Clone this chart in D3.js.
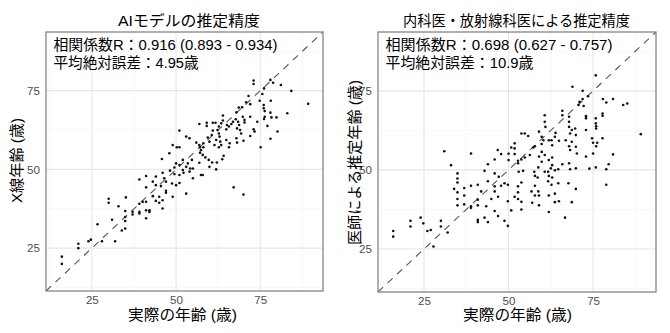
<!DOCTYPE html>
<html><head><meta charset="utf-8">
<script src="https://cdn.jsdelivr.net/npm/d3@7"></script>
<style>body{margin:0;background:#fff}svg{display:block}text{font-family:"Liberation Sans","Noto Sans CJK JP",sans-serif}</style>
</head><body><svg id="c" width="670" height="333"></svg>
<script>
const domain = [11.4, 93.6];
const ticks = [25, 50, 75];
const minorTicks = [12.5, 37.5, 62.5, 87.5];
const titles = ["AIモデルの推定精度", "内科医・放射線科医による推定精度"];
const yTitles = ["X線年齢 (歳)", "医師による推定年齢 (歳)"];
const xTitle = "実際の年齢 (歳)";
const statsR = ["相関係数R：0.916 (0.893 - 0.934)", "相関係数R：0.698 (0.627 - 0.757)"];
const statsMAE = ["平均絶対誤差：4.95歳", "平均絶対誤差：10.9歳"];

// AI model: [actual age, estimated age]
const aiPoints = [
[73.0,78.2],[73.0,77.1],[78.0,78.4],[78.8,77.5],[81.1,76.8],[84.2,74.9],[89.2,70.8],[76.1,75.7],[75.6,73.9],[71.5,73.3],
[70.8,71.3],[72.0,70.7],[69.6,69.7],[68.6,69.6],[67.9,68.1],[74.8,71.8],[76.0,70.4],[76.0,69.4],[76.3,68.5],[76.3,66.7],
[76.1,66.0],[78.1,71.8],[78.0,68.0],[79.8,66.5],[78.3,66.5],[83.0,67.8],[77.1,63.8],[80.1,62.0],[78.0,59.7],[75.1,57.0],
[74.1,65.1],[72.0,66.7],[69.8,66.7],[70.3,65.7],[70.3,64.9],[73.0,62.7],[73.3,62.0],[72.0,60.6],[70.0,59.1],[67.7,65.9],
[68.4,65.1],[68.7,64.1],[68.1,63.0],[69.0,62.5],[69.3,61.4],[67.9,59.9],[68.1,58.5],[66.9,65.1],[66.4,64.4],[65.7,63.6],
[64.9,62.7],[65.1,64.1],[63.9,67.1],[63.9,65.5],[63.4,64.6],[62.7,63.6],[62.3,62.5],[62.7,61.4],[62.9,60.4],[61.9,59.3],
[63.1,58.8],[63.4,57.7],[62.7,57.0],[61.7,64.8],[60.9,64.8],[59.1,64.8],[59.1,63.8],[56.9,64.4],[60.9,62.3],[60.6,60.9],
[59.4,60.1],[59.9,58.8],[58.1,58.3],[61.4,57.7],[64.9,59.3],[65.9,58.3],[65.7,57.0],[64.1,54.3],[63.7,53.2],[51.0,62.3],
[53.0,60.4],[54.0,59.9],[49.0,57.7],[50.2,57.0],[51.0,57.0],[48.0,55.1],[56.0,58.5],[56.9,57.7],[57.1,57.0],[58.1,57.0],
[57.4,56.1],[57.1,55.3],[57.9,54.6],[58.7,53.8],[59.7,53.0],[60.7,52.2],[62.1,52.2],[59.9,50.8],[61.9,50.0],[45.8,53.3],
[50.0,51.9],[49.5,50.6],[51.0,51.4],[52.0,53.0],[52.0,49.8],[53.0,50.8],[53.5,51.9],[54.2,50.3],[55.0,50.3],[54.7,53.0],
[56.9,52.1],[57.4,48.2],[57.9,48.2],[54.0,49.3],[52.2,48.9],[51.0,48.2],[49.5,48.5],[48.2,49.6],[46.0,48.9],[44.0,47.7],
[41.1,47.9],[39.1,46.8],[46.5,47.2],[55.0,47.2],[47.0,46.1],[45.5,44.7],[43.1,46.1],[41.1,44.3],[44.0,45.0],[47.0,43.2],
[47.0,42.6],[43.1,41.5],[45.0,41.3],[44.0,40.0],[45.0,39.4],[46.0,40.2],[41.1,39.7],[39.1,39.1],[40.1,39.7],[41.1,37.0],
[42.1,37.0],[42.1,36.5],[46.0,37.6],[41.1,34.5],[37.1,36.5],[37.1,35.7],[39.1,36.5],[39.1,36.0],[35.1,41.1],[34.9,36.8],
[34.9,34.9],[34.9,33.6],[32.9,38.3],[31.0,34.0],[30.0,40.7],[30.0,39.4],[26.7,32.6],[34.9,31.2],[33.9,30.6],[31.9,27.2],
[28.0,27.2],[24.7,27.7],[24.0,27.2],[21.0,26.4],[21.0,25.0],[16.1,22.3],[16.1,20.0],[49.0,41.3],[50.0,45.0],[51.0,45.7],
[53.0,42.3],[67.1,44.3],[70.0,42.0],[48.8,45.5]
];

// Physicians: [actual age, estimated age]
const drPoints = [
[75.8,79.9],[68.9,76.3],[71.9,75.0],[73.5,73.3],[71.9,72.4],[71.0,71.5],[70.7,70.5],[72.2,70.2],[77.9,72.4],[78.9,71.3],
[80.9,72.4],[83.9,70.5],[85.1,71.0],[89.1,61.3],[72.9,67.0],[72.9,66.3],[75.8,66.3],[75.8,64.7],[77.8,67.8],[77.8,67.1],
[75.9,63.8],[75.9,63.1],[72.9,62.6],[77.8,60.0],[74.7,60.0],[75.0,58.6],[76.2,58.6],[75.9,57.5],[75.0,55.2],[80.9,54.9],
[72.9,54.2],[79.6,51.8],[78.9,50.2],[75.8,50.8],[73.9,50.4],[65.9,68.7],[65.9,67.3],[67.9,66.8],[67.9,65.2],[67.9,63.6],
[68.7,62.6],[68.2,61.5],[69.7,63.1],[69.9,61.0],[66.9,59.4],[68.7,58.9],[67.9,57.5],[68.2,56.3],[69.9,57.3],[70.2,55.2],
[67.9,52.1],[65.9,51.8],[69.9,50.5],[68.2,50.2],[63.9,61.7],[63.7,60.5],[64.9,59.2],[62.7,59.4],[62.9,57.8],[61.9,59.4],
[60.7,67.3],[60.7,65.2],[60.9,63.6],[59.0,62.1],[59.8,60.5],[60.3,59.4],[59.8,58.2],[59.8,55.7],[60.7,54.7],[61.9,53.1],
[62.9,53.9],[62.9,51.5],[62.5,50.5],[61.7,49.4],[63.7,49.9],[64.7,50.2],[59.0,54.2],[59.8,52.6],[58.8,50.8],[57.6,49.4],
[57.8,48.1],[58.6,47.6],[60.7,49.4],[61.9,48.1],[62.9,47.6],[53.8,61.5],[54.8,61.5],[55.8,60.7],[51.8,58.4],[50.8,57.1],
[51.8,56.8],[50.0,55.1],[51.8,55.0],[52.8,52.9],[53.8,53.3],[54.8,53.9],[56.3,54.7],[57.3,57.1],[57.8,57.5],[52.8,52.1],
[53.0,49.4],[54.3,49.7],[50.0,53.1],[46.8,56.3],[47.8,55.0],[45.9,53.3],[43.9,51.8],[42.9,49.7],[45.9,48.9],[47.1,47.8],
[31.0,55.9],[38.9,55.2],[33.0,51.5],[34.9,48.9],[34.9,47.3],[34.9,46.0],[33.9,44.0],[34.9,42.9],[36.9,44.3],[36.9,41.9],
[34.9,40.8],[34.9,38.8],[36.9,39.1],[38.9,45.0],[40.9,45.3],[41.9,43.2],[40.9,40.6],[38.9,38.5],[38.9,38.0],[40.9,38.8],
[43.9,46.4],[45.9,44.8],[45.9,43.2],[46.9,41.5],[44.9,40.8],[43.4,38.5],[45.9,37.0],[46.9,35.4],[42.9,34.9],[43.9,33.5],
[40.9,34.2],[40.9,33.5],[48.8,33.9],[49.8,32.3],[47.8,45.0],[48.8,45.8],[49.8,45.3],[49.8,40.1],[50.8,37.2],[51.8,41.5],
[52.8,42.9],[52.8,40.8],[53.8,39.9],[53.8,37.5],[52.8,44.8],[53.8,46.0],[56.8,43.2],[57.0,39.6],[57.8,45.0],[57.8,41.9],
[58.8,43.2],[59.0,41.9],[59.0,38.8],[61.9,41.9],[63.7,42.5],[63.7,39.8],[64.9,40.1],[61.9,36.7],[66.7,34.9],[68.7,39.8],
[69.9,44.0],[78.9,45.3],[27.8,25.8],[26.0,30.7],[24.0,34.9],[24.8,33.1],[21.0,33.9],[21.0,32.1],[15.9,30.7],[15.9,28.9],
[27.0,31.0],[30.0,33.9],[30.0,32.1],[32.0,30.2],[64.7,45.8],[61.7,46.4],[62.7,45.3],[67.7,45.8]
];

const datasets = [aiPoints, drPoints];
const panels = [
  {x0: 46, x1: 323, y0: 32, y1: 291, ytx: 16.5, tcx: 189, tw: 142, xtcx: 182.5, ytw: 85, ytcy: 160.5, sw: [224, 145]},
  {x0: 378, x1: 656, y0: 32, y1: 292, ytx: 354.5, tcx: 516.5, tw: 227, xtcx: 517.5, ytw: 165, ytcy: 162.5, sw: [227, 148]}
];
const FONT = '"Liberation Sans","Noto Sans CJK JP",sans-serif';

const svg = d3.select("#c");

panels.forEach((p, i) => {
  const x = d3.scaleLinear().domain(domain).range([p.x0, p.x1]);
  const y = d3.scaleLinear().domain(domain).range([p.y1, p.y0]);
  const g = svg.append("g");

  g.append("rect").attr("x", p.x0).attr("y", p.y0).attr("width", p.x1 - p.x0).attr("height", p.y1 - p.y0).attr("fill", "#fff");

  // minor grid
  g.selectAll(".mx").data(minorTicks).join("line")
    .attr("x1", d => x(d)).attr("x2", d => x(d)).attr("y1", p.y0).attr("y2", p.y1)
    .attr("stroke", "#f1f1f1").attr("stroke-width", 0.6);
  g.selectAll(".my").data(minorTicks).join("line")
    .attr("y1", d => y(d)).attr("y2", d => y(d)).attr("x1", p.x0).attr("x2", p.x1)
    .attr("stroke", "#f1f1f1").attr("stroke-width", 0.6);
  // major grid
  g.selectAll(".gx").data(ticks).join("line")
    .attr("x1", d => x(d)).attr("x2", d => x(d)).attr("y1", p.y0).attr("y2", p.y1)
    .attr("stroke", "#e6e6e6").attr("stroke-width", 1.1);
  g.selectAll(".gy").data(ticks).join("line")
    .attr("y1", d => y(d)).attr("y2", d => y(d)).attr("x1", p.x0).attr("x2", p.x1)
    .attr("stroke", "#e6e6e6").attr("stroke-width", 1.1);

  // axes
  const xa = g.append("g").attr("transform", `translate(0,${p.y1})`)
    .call(d3.axisBottom(x).tickValues(ticks).tickSize(0).tickPadding(4.5));
  const ya = g.append("g").attr("transform", `translate(${p.x0},0)`)
    .call(d3.axisLeft(y).tickValues(ticks).tickSize(0).tickPadding(6));
  [xa, ya].forEach(a => {
    a.select(".domain").remove();
    a.selectAll(".tick line").remove();
    a.selectAll("text").attr("fill", "#4d4d4d").style("font-size", "11.6px").style("font-family", FONT);
  });

  // diagonal
  g.append("line")
    .attr("x1", x(domain[0])).attr("y1", y(domain[0]))
    .attr("x2", x(domain[1])).attr("y2", y(domain[1]))
    .attr("stroke", "#555").attr("stroke-width", 1.1).attr("stroke-dasharray", "7,6");

  // points
  g.selectAll("circle").data(datasets[i]).join("circle")
    .attr("cx", d => x(d[0])).attr("cy", d => y(d[1])).attr("r", 1.3).attr("fill", "#111");

  // border
  g.append("rect").attr("x", p.x0).attr("y", p.y0).attr("width", p.x1 - p.x0).attr("height", p.y1 - p.y0)
    .attr("fill", "none").attr("stroke", "#858585").attr("stroke-width", 1.3);

  // title
  g.append("text").attr("x", p.tcx).attr("y", 26).attr("text-anchor", "middle")
    .attr("textLength", p.tw).attr("lengthAdjust", "spacingAndGlyphs")
    .style("font-size", "15px").attr("fill", "#000").text(titles[i]);

  // stats
  g.append("text").attr("x", p.x0 + 7.5).attr("y", 50)
    .attr("textLength", p.sw[0]).attr("lengthAdjust", "spacingAndGlyphs")
    .style("font-size", "15px").attr("fill", "#000").text(statsR[i]);
  g.append("text").attr("x", p.x0 + 7.5).attr("y", 67.5)
    .attr("textLength", p.sw[1]).attr("lengthAdjust", "spacingAndGlyphs")
    .style("font-size", "15px").attr("fill", "#000").text(statsMAE[i]);

  // x title
  g.append("text").attr("x", p.xtcx).attr("y", 320).attr("text-anchor", "middle")
    .attr("textLength", 109).attr("lengthAdjust", "spacingAndGlyphs")
    .style("font-size", "14.5px").attr("fill", "#000").text(xTitle);

  // y title
  g.append("text").attr("transform", `translate(${p.ytx},${p.ytcy}) rotate(-90)`)
    .attr("text-anchor", "middle").attr("dy", "0.38em")
    .attr("textLength", p.ytw).attr("lengthAdjust", "spacingAndGlyphs")
    .style("font-size", "15px").attr("fill", "#000").text(yTitles[i]);
});
</script>
</body></html>
